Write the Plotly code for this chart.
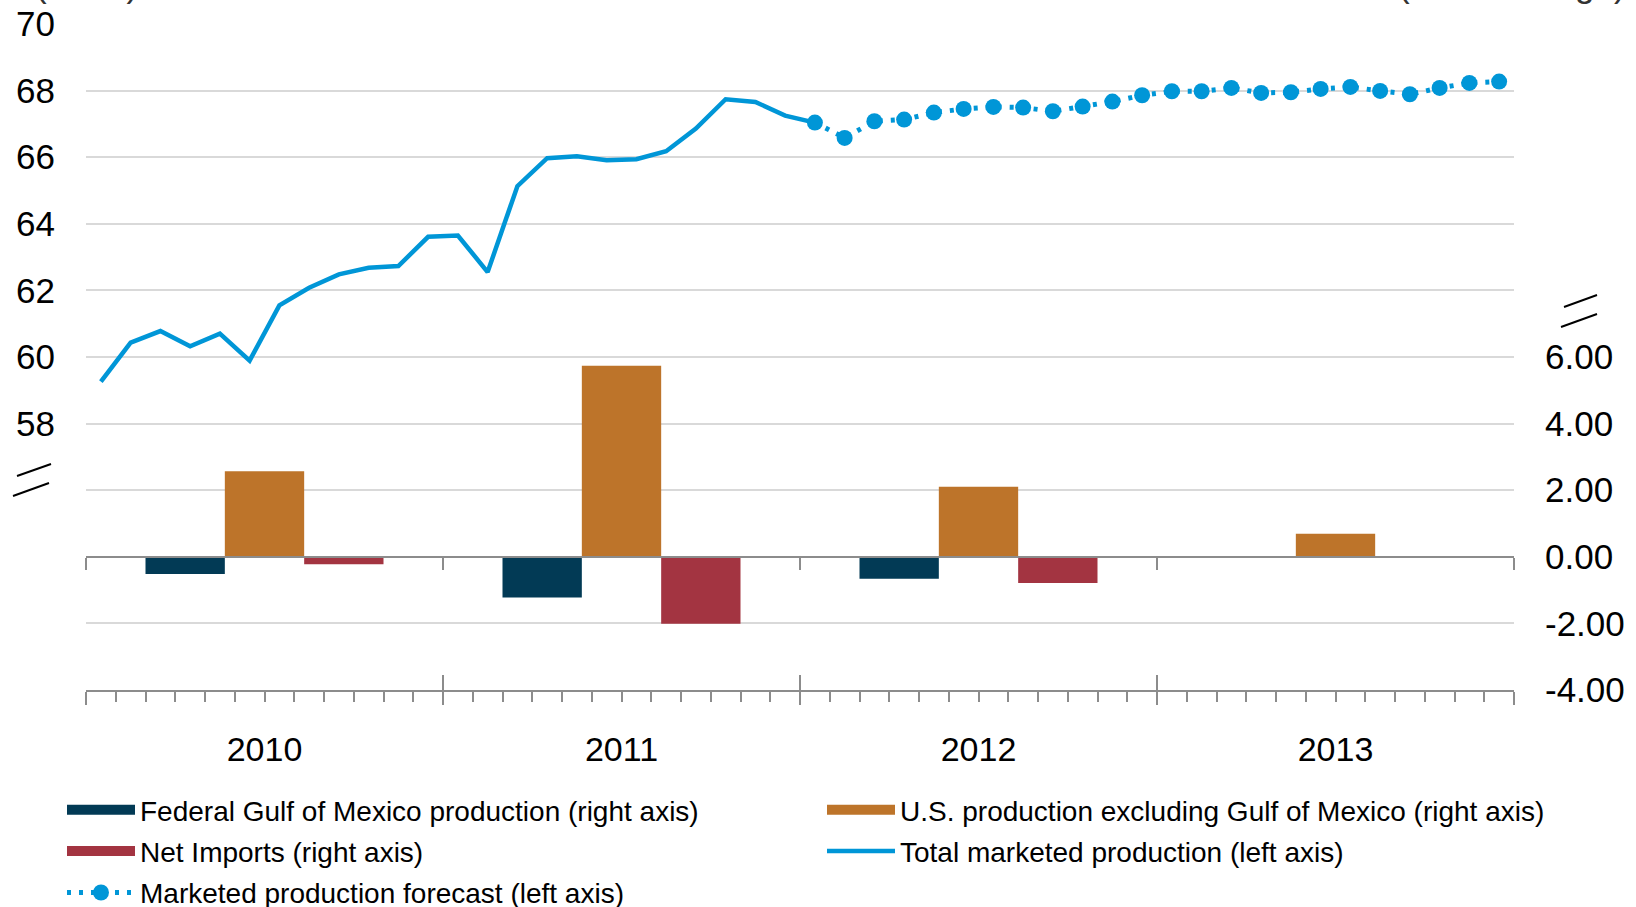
import plotly.graph_objects as go
import numpy as np

FONT = "Liberation Sans, Arial, sans-serif"

# ---------------- data ----------------
years = ["2010", "2011", "2012", "2013"]
# monthly total marketed production (Bcf/d), Jan 2010 - Dec 2011 (history)
total_hist = [59.26, 60.43, 60.78, 60.32, 60.70, 59.89, 61.55, 62.08, 62.48, 62.68, 62.73, 63.61,
              63.65, 62.55, 65.13, 65.97, 66.03, 65.91, 65.94, 66.18, 66.86, 67.74, 67.66, 67.25]
# monthly forecast, Jan 2012 - Dec 2013
forecast = [67.04, 66.58, 67.08, 67.13, 67.34, 67.45, 67.51, 67.49, 67.38, 67.52, 67.67, 67.86,
            67.98, 67.98, 68.08, 67.93, 67.95, 68.05, 68.11, 67.99, 67.89, 68.08, 68.23, 68.27]
# annual changes (right axis)
gom_change = [-0.52, -1.22, -0.66, 0.0]
lower48_change = [2.57, 5.74, 2.10, 0.69]
imports_change = [-0.22, -2.01, -0.79, 0.0]

left_ticks = [52, 54, 56, 58, 60, 62, 64, 66, 68, 70]
left_labels = ["", "", "", "58", "60", "62", "64", "66", "68", "70"]
right_ticks = [-4, -2, 0, 2, 4, 6]
right_labels = ["-4.00", "-2.00", "0.00", "2.00", "4.00", "6.00"]

C_NAVY = "#023A55"
C_ORANGE = "#BD742A"
C_RED = "#A33441"
C_BLUE = "#0096D7"
C_AXIS = "#8C8C8C"
C_GRID = "#D9D9D9"

n_months = 12 * len(years)
month_pos = np.arange(n_months) + 0.5          # centre of each month on the category scale
year_centres = [12 * i + 6 for i in range(len(years))]
year_bounds = [12 * i for i in range(len(years) + 1)]

hist_x = list(month_pos[:len(total_hist)]) + [month_pos[len(total_hist)]]
hist_y = total_hist + [forecast[0]]
fc_x = list(month_pos[len(total_hist):])

fig = go.Figure()

# legend-only entries for the bar series (wide rectangular swatches)
for name, col, lg in [("Federal Gulf of Mexico production (right axis)", C_NAVY, "legend"),
                      ("U.S. production excluding Gulf of Mexico (right axis)", C_ORANGE, "legend2"),
                      ("Net Imports (right axis)", C_RED, "legend")]:
    fig.add_trace(go.Scatter(x=[None], y=[None], mode="lines", name=name, legend=lg,
                             legendgroup=name,
                             line=dict(color=col, width=14), hoverinfo="skip"))

# bars (right axis)
for vals, col in [(gom_change, C_NAVY), (lower48_change, C_ORANGE), (imports_change, C_RED)]:
    fig.add_trace(go.Bar(x=year_centres, y=vals, marker=dict(color=col, line=dict(width=0)),
                         xaxis="x", yaxis="y2", showlegend=False))

# lines (left axis)
fig.add_trace(go.Scatter(x=hist_x, y=hist_y, mode="lines", name="Total marketed production (left axis)",
                         legend="legend2", legendgroup="total",
                         line=dict(color=C_BLUE, width=4.5), xaxis="x", yaxis="y"))
fig.add_trace(go.Scatter(x=fc_x, y=forecast, mode="lines+markers",
                         name="Marketed production forecast (left axis)", legend="legend",
                         legendgroup="forecast",
                         line=dict(color=C_BLUE, width=5, dash="4px,8px"),
                         marker=dict(color=C_BLUE, size=16),
                         xaxis="x", yaxis="y"))

# helper traces so that the extra axes get drawn
for ax in ["x2", "x3", "x4"]:
    fig.add_trace(go.Scatter(x=[None], y=[None], xaxis=ax, yaxis="y", showlegend=False,
                             hoverinfo="skip"))

L, R, T, B = 86, 122, 24, 217
W, H = 1636, 907
pw, ph = W - L - R, H - T - B

def px(xp):
    return (xp - L) / pw

def py(yp):
    return (H - B - yp) / ph

common_x = dict(range=[0, n_months], showgrid=False, zeroline=False, fixedrange=True,
                automargin=False)

legend_common = dict(orientation="v", xanchor="left", yanchor="top",
                     font=dict(size=28, family=FONT, color="black"),
                     itemwidth=68, bgcolor="rgba(0,0,0,0)", traceorder="grouped",
                     tracegroupgap=2, borderwidth=0)

fig.update_layout(
    width=W, height=H,
    margin=dict(l=L, r=R, t=T, b=B, pad=0, autoexpand=False),
    paper_bgcolor="white", plot_bgcolor="white",
    font=dict(family=FONT, color="black"),
    barmode="group", bargap=1/3, bargroupgap=0,
    xaxis=dict(**common_x, tickvals=year_bounds, ticks="outside", ticklen=13, tickwidth=2,
               tickcolor=C_AXIS, showticklabels=False, showline=True, linecolor=C_AXIS, linewidth=2,
               minor=dict(tick0=0, dtick=1, ticks="outside", ticklen=10, tickwidth=2,
                          tickcolor=C_AXIS, showgrid=False)),
    xaxis2=dict(**common_x, overlaying="x", anchor="y", side="bottom", tickvals=year_bounds,
                ticks="inside", ticklen=15, tickwidth=2, tickcolor=C_AXIS,
                showticklabels=False, showline=False),
    xaxis3=dict(**common_x, overlaying="x", anchor="y", side="bottom", tickvals=year_centres,
                ticktext=years, ticks="", showline=False, ticklabelstandoff=36,
                tickfont=dict(size=34, family=FONT, color="black")),
    xaxis4=dict(**common_x, overlaying="x", anchor="free", position=4 / 20, side="bottom",
                tickvals=year_bounds, ticks="outside", ticklen=12, tickwidth=2, tickcolor=C_AXIS,
                showticklabels=False, showline=True, linecolor=C_AXIS, linewidth=2),
    yaxis=dict(range=[50, 70], tickvals=left_ticks, ticktext=left_labels, showgrid=True,
               gridcolor=C_GRID, gridwidth=2, ticks="", showline=False, zeroline=False,
               ticklabelstandoff=30, tickfont=dict(size=35, family=FONT, color="black"),
               fixedrange=True, automargin=False),
    yaxis2=dict(range=[-4, 16], overlaying="y", side="right", tickvals=right_ticks,
                ticktext=right_labels, showgrid=False, ticks="", showline=False, zeroline=False,
                ticklabelstandoff=30, tickfont=dict(size=35, family=FONT, color="black"),
                fixedrange=True, automargin=False),
    legend=dict(**legend_common, x=px(62), y=py(785)),
    legend2=dict(**legend_common, x=px(822), y=py(785)),
    showlegend=True,
)

# axis-break marks
for (x0, y0, x1, y1) in [(17, 476, 51, 464), (13, 496, 49, 483),
                         (1564, 307, 1597, 295), (1561, 327, 1597, 314)]:
    fig.add_shape(type="line", xref="paper", yref="paper", x0=px(x0), y0=py(y0), x1=px(x1), y1=py(y1),
                  line=dict(color="black", width=2))

# axis unit labels (cut off at the top of the frame, as in the original)
fig.add_annotation(text="(Bcf/d)", xref="paper", yref="paper", x=px(140), y=py(6),
                   xanchor="right", yanchor="bottom", showarrow=False,
                   font=dict(size=35, family=FONT, color="#333333"))
fig.add_annotation(text="(Bcf/d change)", xref="paper", yref="paper", x=px(1628), y=py(6),
                   xanchor="right", yanchor="bottom", showarrow=False,
                   font=dict(size=35, family=FONT, color="#333333"))

fig.write_html("out.html", config={"displayModeBar": False},
               post_script="document.body.style.margin='0';document.body.style.overflow='hidden';")
